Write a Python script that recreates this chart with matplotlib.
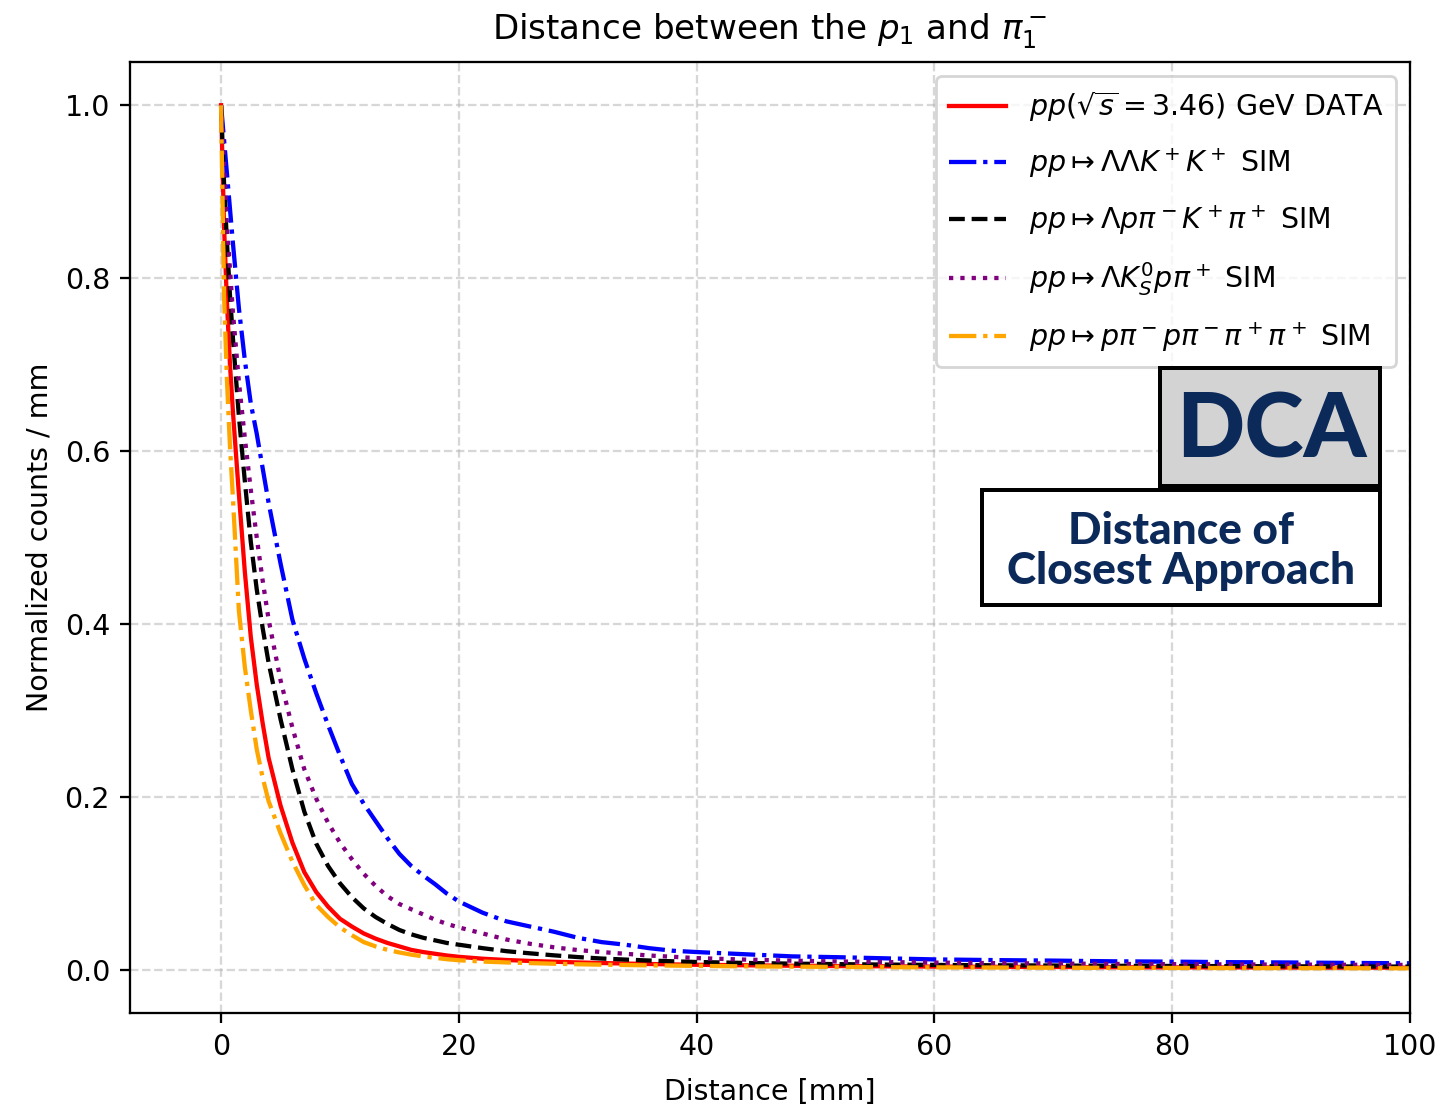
import matplotlib
matplotlib.use("Agg")
import matplotlib.pyplot as plt
from matplotlib.patches import Rectangle

# ---- data ----
distance = [0, 0.25, 0.5, 0.75, 1, 1.5, 2, 2.5, 3, 3.5, 4, 5, 6, 7, 8, 9, 10, 11, 12, 13,
            14, 15, 16, 17, 18, 19, 20, 22, 24, 26, 28, 30, 32, 34, 36, 38, 40, 44, 48, 52,
            56, 60, 65, 70, 75, 80, 85, 90, 95, 100]

data_red = [1.0, 0.86, 0.77, 0.70, 0.645, 0.55, 0.46, 0.385, 0.33, 0.285, 0.245, 0.19, 0.147,
            0.113, 0.09, 0.073, 0.059, 0.05, 0.042, 0.036, 0.031, 0.027, 0.023, 0.0205, 0.0185,
            0.0165, 0.015, 0.0128, 0.0113, 0.0102, 0.0093, 0.0085, 0.0078, 0.0072, 0.0067,
            0.0062, 0.0058, 0.0052, 0.0047, 0.0043, 0.004, 0.0037, 0.0034, 0.0032, 0.003,
            0.0028, 0.0027, 0.0026, 0.0025, 0.0024]

sim_llkk = [1.0, 0.96, 0.92, 0.88, 0.84, 0.765, 0.705, 0.655, 0.62, 0.58, 0.54, 0.47, 0.405,
            0.36, 0.32, 0.283, 0.248, 0.215, 0.192, 0.172, 0.152, 0.134, 0.12, 0.109, 0.099,
            0.088, 0.079, 0.066, 0.056, 0.05, 0.044, 0.037, 0.032, 0.029, 0.025, 0.022,
            0.0205, 0.018, 0.0155, 0.0145, 0.0132, 0.012, 0.0112, 0.0106, 0.0098, 0.0094,
            0.0088, 0.0084, 0.0079, 0.0075]

sim_lppkp = [1.0, 0.91, 0.84, 0.78, 0.73, 0.64, 0.565, 0.495, 0.44, 0.395, 0.355, 0.29, 0.232,
             0.183, 0.146, 0.12, 0.1, 0.084, 0.071, 0.061, 0.053, 0.046, 0.041, 0.037, 0.034,
             0.031, 0.029, 0.025, 0.0215, 0.019, 0.0167, 0.0147, 0.013, 0.0118, 0.0107, 0.0098,
             0.009, 0.0079, 0.0071, 0.0065, 0.006, 0.0056, 0.0052, 0.0049, 0.0046, 0.0044,
             0.0042, 0.004, 0.0038, 0.0037]

sim_lk0pp = [1.0, 0.93, 0.86, 0.81, 0.76, 0.68, 0.615, 0.555, 0.5, 0.45, 0.405, 0.335, 0.28,
             0.232, 0.198, 0.17, 0.147, 0.128, 0.111, 0.097, 0.085, 0.076, 0.07, 0.064, 0.058,
             0.053, 0.049, 0.042, 0.035, 0.03, 0.026, 0.0228, 0.0205, 0.0185, 0.0165, 0.015,
             0.0135, 0.0118, 0.0105, 0.0096, 0.0089, 0.0083, 0.0077, 0.0072, 0.0068, 0.0065,
             0.0062, 0.006, 0.0058, 0.0056]

sim_4pi = [1.0, 0.78, 0.68, 0.605, 0.545, 0.415, 0.35, 0.3, 0.255, 0.222, 0.195, 0.158, 0.125,
           0.098, 0.075, 0.061, 0.049, 0.04, 0.032, 0.027, 0.023, 0.02, 0.0175, 0.0155, 0.0138,
           0.0122, 0.011, 0.0095, 0.0085, 0.0077, 0.007, 0.0064, 0.0059, 0.0055, 0.0051,
           0.0048, 0.0045, 0.004, 0.0036, 0.0033, 0.003, 0.0028, 0.0026, 0.0024, 0.0022,
           0.0021, 0.002, 0.0019, 0.0018, 0.0017]

labels = [r'$pp(\sqrt{s}=3.46)$ GeV DATA',
          r'$pp\mapsto\Lambda\Lambda K^+K^+$ SIM',
          r'$pp\mapsto\Lambda p\pi^-K^+\pi^+$ SIM',
          r'$pp\mapsto\Lambda K^0_S p\pi^+$ SIM',
          r'$pp\mapsto p\pi^-p\pi^-\pi^+\pi^+$ SIM']

# ---- figure ----
DPI = 205
fig = plt.figure(figsize=(1435 / DPI, 1109 / DPI), dpi=DPI)
ax = fig.add_axes([130 / 1435, 1 - 1013 / 1109, (1410 - 130) / 1435, (1013 - 62) / 1109])

ax.plot(distance, data_red, color='red', ls='-', lw=1.5, label=labels[0])
ax.plot(distance, sim_llkk, color='blue', ls='-.', lw=1.5, label=labels[1])
ax.plot(distance, sim_lppkp, color='black', ls='--', lw=1.5, label=labels[2])
ax.plot(distance, sim_lk0pp, color='purple', ls=':', lw=1.5, label=labels[3])
ax.plot(distance, sim_4pi, color='orange', ls='-.', lw=1.5, label=labels[4])

ax.set_xlim(-7.66, 100)
ax.set_ylim(-0.05, 1.05)
ax.set_xticks([0, 20, 40, 60, 80, 100])
ax.set_yticks([0.0, 0.2, 0.4, 0.6, 0.8, 1.0])
ax.grid(True, ls='--', alpha=0.5)
ax.set_title(r'Distance between the $p_1$ and $\pi_1^-$', fontsize=12, pad=8)
ax.set_xlabel('Distance [mm]', labelpad=6)
ax.set_ylabel('Normalized counts / mm')
ax.legend(loc='upper right', labelspacing=0.8, borderpad=0.45)

# ---- DCA overlay boxes ----
navy = '#0b2a5a'
fig.add_artist(Rectangle((1160 / 1435, 1 - 486 / 1109), (1380 - 1160) / 1435, (486 - 368) / 1109,
                         transform=fig.transFigure, facecolor='#d3d3d3', edgecolor='black',
                         lw=1.4, zorder=10))
fig.text(1271 / 1435, 1 - 431 / 1109, 'DCA', ha='center', va='center', color=navy,
         fontsize=31.5, fontweight='black', family='Lato', zorder=11)
fig.add_artist(Rectangle((982 / 1435, 1 - 605 / 1109), (1380 - 982) / 1435, (605 - 490) / 1109,
                         transform=fig.transFigure, facecolor='white', edgecolor='black',
                         lw=1.4, zorder=10))
fig.text(1181 / 1435, 1 - 551 / 1109, 'Distance of\nClosest Approach', ha='center', va='center',
         color=navy, fontsize=15.5, fontweight='black', family='Lato', linespacing=1.0, zorder=11)

fig.savefig('out.png', dpi=DPI)
